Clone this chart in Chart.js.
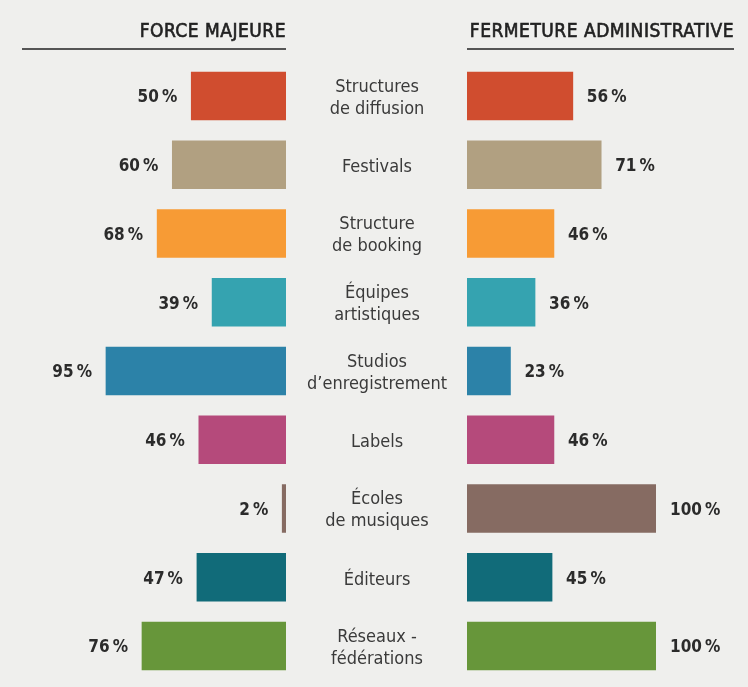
<!DOCTYPE html>
<html>
<head>
<meta charset="utf-8">
<script src="https://cdn.jsdelivr.net/npm/chart.js@4.4.0/dist/chart.umd.min.js"></script>
<style>
  html, body { margin: 0; padding: 0; background: #efefed; }
  #wrap { position: relative; width: 748px; height: 687px; }
  #wrap canvas { position: absolute; left: 0; top: 0; }
</style>
</head>
<body>
<div id="wrap">
  <canvas id="leftChart" width="748" height="687"></canvas>
  <canvas id="rightChart" width="748" height="687"></canvas>
</div>
<script>
var categories = [
  ["Structures", "de diffusion"],
  ["Festivals"],
  ["Structure", "de booking"],
  ["Équipes", "artistiques"],
  ["Studios", "d’enregistrement"],
  ["Labels"],
  ["Écoles", "de musiques"],
  ["Éditeurs"],
  ["Réseaux -", "fédérations"]
];
var forceMajeure = [50, 60, 68, 39, 95, 46, 2, 47, 76];
var fermetureAdmin = [56, 71, 46, 36, 23, 46, 100, 45, 100];
var barColors = ["#d04d2f", "#b1a081", "#f79b35", "#35a3b0", "#2c82a8", "#b54a7b", "#866b62", "#116b79", "#67963a"];
var titles = ["FORCE MAJEURE", "FERMETURE ADMINISTRATIVE"];

var FONT = "'DejaVu Sans Condensed', 'Liberation Sans Narrow', 'DejaVu Sans', sans-serif";

// value labels + header, for one side
var sidePlugin = {
  id: "sideLabels",
  afterDatasetsDraw: function(chart, args, opts) {
    var ctx = chart.ctx;
    var meta = chart.getDatasetMeta(0);
    var data = chart.data.datasets[0].data;
    ctx.save();
    ctx.fillStyle = "#2b2b2b";
    ctx.font = "bold 17px " + FONT;
    ctx.textBaseline = "middle";
    meta.data.forEach(function(bar, i) {
      var txt = data[i] + "\u2009%";
      if (opts.side == "left") {
        ctx.textAlign = "right";
        ctx.fillText(txt, bar.x - 14, bar.y + 2);
      } else {
        ctx.textAlign = "left";
        ctx.fillText(txt, bar.x + 14, bar.y + 2);
      }
    });
    // header
    ctx.font = "19px " + FONT;
    ctx.letterSpacing = "0.5px";
    ctx.fillStyle = "#222";
    ctx.textBaseline = "alphabetic";
    ctx.strokeStyle = "#222";
    ctx.lineWidth = 0.6;
    ctx.textAlign = "right";
    var tx = opts.side == "left" ? 286 : 734;
    ctx.fillText(opts.title, tx, 37);
    ctx.strokeText(opts.title, tx, 37);
    ctx.letterSpacing = "0px";
    ctx.lineWidth = 1.5;
    ctx.beginPath();
    if (opts.side == "left") {
      ctx.moveTo(22, 49); ctx.lineTo(286, 49);
    } else {
      ctx.moveTo(467, 49); ctx.lineTo(734, 49);
    }
    ctx.stroke();

    // category names in the middle (only once)
    if (opts.side == "left") {
      var ys = chart.scales.y;
      ctx.font = "18px " + FONT;
      ctx.fillStyle = "#3a3a3a";
      ctx.textAlign = "center";
      ctx.textBaseline = "middle";
      categories.forEach(function(lines, i) {
        var y = ys.getPixelForValue(i);
        if (lines.length == 1) {
          ctx.fillText(lines[0], 377, y + 3);
        } else {
          ctx.fillText(lines[0], 377, y - 9);
          ctx.fillText(lines[1], 377, y + 13);
        }
      });
    }
    ctx.restore();
  }
};

function makeChart(id, values, side) {
  return new Chart(id, {
    type: "bar",
    data: {
      labels: categories.map(function(c) { return c.join(" "); }),
      datasets: [{
        data: values,
        backgroundColor: barColors,
        barThickness: 48
      }]
    },
    options: {
      indexAxis: "y",
      responsive: false,
      animation: false,
      layout: {
        padding: side == "left"
          ? { left: 96.5, right: 462, top: 61.6, bottom: 6.6 }
          : { left: 467, right: 92, top: 61.6, bottom: 6.6 }
      },
      scales: {
        x: { display: false, min: 0, max: 100, reverse: side == "left" },
        y: { display: false }
      },
      plugins: {
        legend: { display: false },
        tooltip: { enabled: false },
        sideLabels: { side: side, title: side == "left" ? titles[0] : titles[1] }
      }
    },
    plugins: [sidePlugin]
  });
}

makeChart("leftChart", forceMajeure, "left");
makeChart("rightChart", fermetureAdmin, "right");
</script>
</body>
</html>
